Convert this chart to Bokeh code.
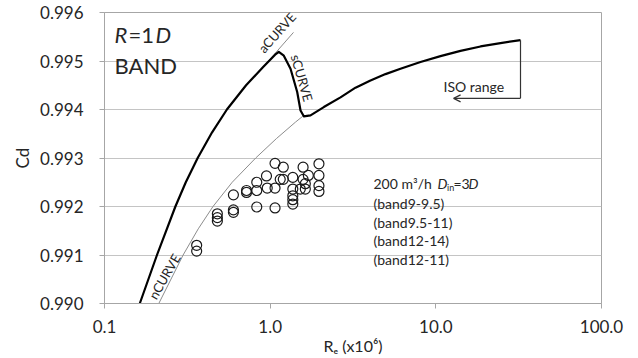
from bokeh.plotting import figure
from bokeh.models import Label, FixedTicker, Arrow, OpenHead
from bokeh.embed import file_html
from bokeh.resources import INLINE

# ---------------- data ----------------
# thick solid curve: aCURVE -> peak -> sCURVE drop -> nCURVE up to the ISO range end
thick_re = [0.1633, 0.2074, 0.2679, 0.3095, 0.3651, 0.4462, 0.5481, 0.7155, 0.9040,
            1.071, 1.127, 1.209, 1.327, 1.456, 1.525, 1.596, 1.752, 2.108, 2.658,
            3.274, 4.032, 4.969, 6.118, 8.08, 10.67, 14.09, 18.61, 24.56, 32.44]
thick_cd = [0.99000, 0.99100, 0.99200, 0.99250, 0.99300, 0.99353, 0.99400, 0.99450, 0.99487,
            0.99513, 0.99519, 0.99511, 0.99484, 0.99436, 0.99398, 0.99386, 0.99388, 0.99405, 0.99425,
            0.99445, 0.99460, 0.99473, 0.99484, 0.99498, 0.99510, 0.99521, 0.99530, 0.99537, 0.99543]

# thin nCURVE
ncurve_re = [0.2127, 0.2982, 0.3682, 0.4518, 0.5900, 0.8178, 1.0905, 1.4216, 1.572]
ncurve_cd = [0.99000, 0.99100, 0.99154, 0.99200, 0.99250, 0.99300, 0.99340, 0.99374, 0.99386]

# thin aCURVE continuation above the peak
acurve_re = [0.9040, 1.383]
acurve_cd = [0.99487, 0.99559]

# measured points (circles)
meas_re = [0.36, 0.36, 0.48, 0.48, 0.48, 0.60, 0.60, 0.60, 0.72, 0.72,
           0.83, 0.83, 0.83, 0.95, 0.96, 1.07, 1.07, 1.07, 1.15, 1.20, 1.20,
           1.37, 1.37, 1.37, 1.37, 1.37, 1.52, 1.58, 1.58, 1.63, 1.63, 1.70,
           1.97, 1.97, 1.97, 1.97]
meas_cd = [0.99120, 0.99108, 0.99185, 0.99177, 0.99170, 0.99224, 0.99193, 0.99188, 0.99233, 0.99229,
           0.99250, 0.99233, 0.99199, 0.99263, 0.99238, 0.99289, 0.99238, 0.99197, 0.99256, 0.99281, 0.99256,
           0.99260, 0.99236, 0.99222, 0.99214, 0.99205, 0.99236, 0.99281, 0.99256, 0.99247, 0.99236, 0.99264,
           0.99288, 0.99264, 0.99243, 0.99231]

# ISO range bracket: from curve end down, then arrow to the left
iso_top = (32.44, 0.99543)
iso_corner = (32.44, 0.99423)
iso_tip = (12.8, 0.99423)

x_ticks = [0.1, 1, 10, 100]
x_tick_labels = ["0.1", "1.0", "10.0", "100.0"]
y_ticks = [0.990, 0.991, 0.992, 0.993, 0.994, 0.995, 0.996]

x_title = "R\u2091 (x10\u2076)"
y_title = "Cd"
legend_lines = ["(band9-9.5)", "(band9.5-11)", "(band12-14)", "(band12-11)"]

# ---------------- layout helpers (pixel -> data for annotations) ----------------
FL, FR, FT, FB = 104, 601, 12, 303
def px2x(px):
    return 10 ** ((px - FL) / ((FR - FL) / 3.0) - 1)
def py2y(py):
    return 0.996 - (py - FT) / (FB - FT) * 0.006

FONT = "Lato"
TXT = "#262626"
GRID = "#c4c4c4"

p = figure(width=638, height=358, x_axis_type="log", x_range=(0.1, 100),
           y_range=(0.990, 0.996), output_backend="svg", toolbar_location=None,
           min_border_left=FL, min_border_right=638 - FR, min_border_top=FT,
           min_border_bottom=358 - FB)
p.background_fill_color = "white"
p.border_fill_color = "white"
p.outline_line_color = "#a6a6a6"
p.outline_line_width = 1

p.xgrid.visible = False
p.ygrid.grid_line_color = GRID
p.ygrid.grid_line_width = 1
p.ygrid.ticker = FixedTicker(ticks=y_ticks)

p.xaxis.ticker = FixedTicker(ticks=x_ticks)
p.xaxis.major_label_overrides = {t: l for t, l in zip(x_ticks, x_tick_labels)}
p.yaxis.ticker = FixedTicker(ticks=y_ticks)
p.yaxis.major_label_overrides = {t: "%.3f" % t for t in y_ticks}
for ax in (p.xaxis, p.yaxis):
    ax.axis_line_color = "#a6a6a6"
    ax.major_tick_line_color = "#a6a6a6"
    ax.major_tick_out = 5
    ax.major_tick_in = 0
    ax.minor_tick_line_color = None
    ax.major_label_text_font = FONT
    ax.major_label_text_font_size = "17px"
    ax.major_label_text_color = TXT
    ax.axis_label_text_font = FONT
    ax.axis_label_text_font_style = "normal"
    ax.axis_label_text_color = TXT
p.yaxis.major_label_standoff = 16
p.xaxis.major_label_standoff = 11
p.xaxis.axis_label = x_title
p.xaxis.axis_label_text_font_size = "16px"
p.xaxis.axis_label_standoff = 0
p.yaxis.axis_label = y_title
p.yaxis.axis_label_text_font_size = "17px"
p.yaxis.axis_label_standoff = 4

# curves
p.line(ncurve_re, ncurve_cd, line_color="#8c8c8c", line_width=1)
p.line(acurve_re, acurve_cd, line_color="#8c8c8c", line_width=1)
p.line(thick_re, thick_cd, line_color="black", line_width=2.2, line_join="round")

# measured points
p.scatter(meas_re, meas_cd, marker="circle", size=10, fill_color=None,
          line_color="#1a1a1a", line_width=1.2)

# ISO range bracket
p.segment(x0=[iso_top[0]], y0=[iso_top[1]], x1=[iso_corner[0]], y1=[iso_corner[1]],
          line_color="#333333", line_width=1.2)
p.add_layout(Arrow(end=OpenHead(size=7, line_color="#333333", line_width=1.2),
                   x_start=iso_corner[0], y_start=iso_corner[1],
                   x_end=iso_tip[0], y_end=iso_tip[1],
                   line_color="#333333", line_width=1.2))

def lab(px, py, text, size, style="normal", align="left", angle=0, color=TXT, baseline="middle"):
    p.add_layout(Label(x=px2x(px), y=py2y(py), text=text, text_font=FONT,
                       text_font_size=size, text_font_style=style, text_color=color,
                       text_align=align, text_baseline=baseline, angle=angle,
                       angle_units="deg"))

# R=1D / BAND
lab(114, 34, "R", "22px", "italic")
lab(128, 34, "=1", "22px")
lab(155, 34, "D", "22px", "italic")
lab(114, 65, "BAND", "22px")

# curve labels
lab(276.5, 32, "aCURVE", "13px", align="center", angle=48)
lab(301.5, 77.5, "sCURVE", "13px", align="center", angle=-74)
lab(164, 276, "nCURVE", "13px", align="center", angle=60)

# ISO range
lab(443, 86, "ISO range", "14px")

# legend-like text block
lab(373, 183, "200 m\u00b3/h", "14px")
lab(437, 183, "D", "14px", "italic")
lab(446.5, 187, "in", "9px")
lab(453, 183, "=3", "14px")
lab(468, 183, "D", "14px", "italic")
for i, t in enumerate(legend_lines):
    lab(373, 203 + i * 18.5, t, "14px")

open("out.html", "w").write(file_html(p, INLINE))
